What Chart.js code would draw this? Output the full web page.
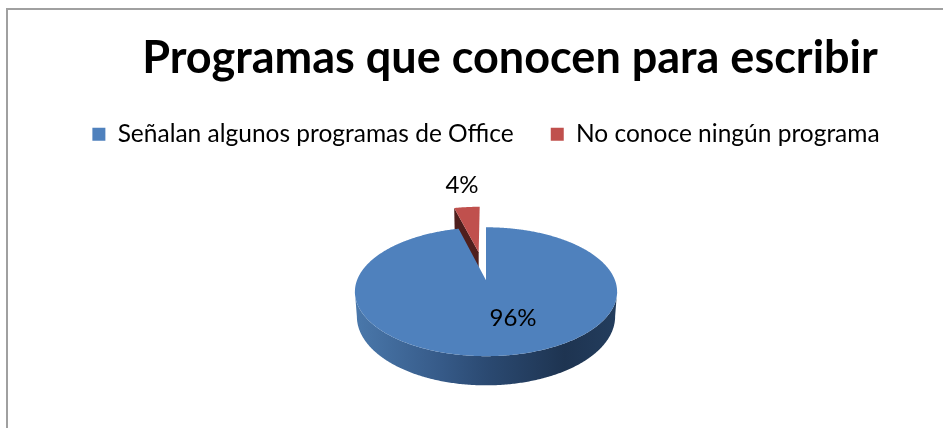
<!DOCTYPE html>
<html lang="es">
<head>
<meta charset="utf-8">
<style>html,body{margin:0;padding:0;background:#fff}canvas{display:block}</style>
<script src="https://cdn.jsdelivr.net/npm/chart.js@4"></script>
</head>
<body>
<canvas id="c" width="943" height="428" style="width:943px;height:428px"></canvas>
<script>
const titleText = 'Programas que conocen para escribir';
const categories = ['Señalan algunos programas de Office', 'No conoce ningún programa'];
const values = [96, 4];
const colors = ['#4f81bd', '#c0504d'];
const explode = [0, 49];

// 3-D view used to project the flat pie drawn by the library
const VIEW = { halfW: 129, halfH: 62.4, persp: 0.178, depth: 24, wallDepth: 28, bottomScale: 0.985 };
const LABEL_OFFSET = [[27, 38], [-24, -95]];
const TITLE_SHIFT = 24;

function project(cx, cy, u, v, lowered, depth) {
  const d = 1 - VIEW.persp * v;
  const s = lowered ? VIEW.bottomScale : 1;
  return [cx + VIEW.halfW * s * u / d,
          cy + (VIEW.halfH * v + (lowered ? depth : 0)) / d];
}

function arcSamples(a0, a1) {
  const n = Math.max(2, Math.ceil((a1 - a0) / 0.01));
  const out = [];
  for (let i = 0; i <= n; i++) out.push(a0 + (a1 - a0) * i / n);
  return out;
}

const pie3d = {
  id: 'pie3d',
  beforeDraw(chart) {
    const { ctx } = chart;
    ctx.save();
    ctx.strokeStyle = '#a0a0a0';
    ctx.lineWidth = 2;
    ctx.beginPath();
    ctx.moveTo(7, 428);
    ctx.lineTo(7, 9);
    ctx.lineTo(943, 9);
    ctx.stroke();
    ctx.restore();
  },
  afterLayout(chart) {
    chart.titleBlock.left += TITLE_SHIFT;
    chart.titleBlock.right += TITLE_SHIFT;
  },
  beforeDatasetDraw(chart, args) {
    const { ctx } = chart;
    const arcs = args.meta.data;
    const order = arcs.map((_, i) => i).sort((a, b) => values[a] - values[b]);
    ctx.save();
    for (const i of order) {
      const el = arcs[i];
      const frac = (el.options.offset || 0) / el.outerRadius;
      const mid = (el.startAngle + el.endAngle) / 2;
      const ox = frac * Math.cos(mid), oy = frac * Math.sin(mid);
      const depth = frac > 0 ? VIEW.wallDepth : VIEW.depth;
      const pt = (a, low) => project(el.x, el.y, ox + Math.cos(a), oy + Math.sin(a), low, depth);
      const apex = low => project(el.x, el.y, ox, oy, low, depth);

      // front rim
      const front = arcSamples(el.startAngle, el.endAngle)
        .filter(a => oy + Math.sin(a) >= VIEW.persp - 0.01 && frac === 0);
      if (front.length) {
        const g = ctx.createLinearGradient(el.x - 131, 0, el.x + 131, 0);
        g.addColorStop(0, '#4a78ab');
        g.addColorStop(0.33, '#365a88');
        g.addColorStop(0.5, '#2b4a72');
        g.addColorStop(0.8, '#1e3451');
        g.addColorStop(1, '#233d5d');
        ctx.fillStyle = g;
        ctx.beginPath();
        front.forEach((a, k) => { const p = pt(a, false); k ? ctx.lineTo(p[0], p[1]) : ctx.moveTo(p[0], p[1]); });
        front.slice().reverse().forEach(a => { const p = pt(a, true); ctx.lineTo(p[0], p[1]); });
        ctx.closePath();
        ctx.fill();
      }

      // wall on the cut edge of an exploded slice
      if (frac > 0) {
        const a = el.startAngle;
        ctx.fillStyle = '#4f1f1d';
        ctx.beginPath();
        let p = apex(false); ctx.moveTo(p[0], p[1]);
        p = pt(a, false); ctx.lineTo(p[0], p[1]);
        p = pt(a, true); ctx.lineTo(p[0], p[1]);
        p = apex(true); ctx.lineTo(p[0], p[1]);
        ctx.closePath();
        ctx.fill();
      }

      // top face
      ctx.fillStyle = el.options.backgroundColor;
      ctx.beginPath();
      const p0 = apex(false); ctx.moveTo(p0[0], p0[1]);
      arcSamples(el.startAngle, el.endAngle).forEach(a => { const p = pt(a, false); ctx.lineTo(p[0], p[1]); });
      ctx.closePath();
      ctx.fill();
    }
    ctx.restore();
    return false;
  },
  afterDatasetsDraw(chart) {
    const { ctx } = chart;
    ctx.save();
    ctx.font = '24px Lato';
    ctx.fillStyle = '#000';
    ctx.textAlign = 'center';
    ctx.textBaseline = 'middle';
    chart.getDatasetMeta(0).data.forEach((el, i) => {
      ctx.fillText(values[i] + '%', el.x + LABEL_OFFSET[i][0], el.y + LABEL_OFFSET[i][1]);
    });
    ctx.restore();
  }
};

new Chart(document.getElementById('c'), {
  type: 'pie',
  data: {
    labels: categories,
    datasets: [{ data: values, backgroundColor: colors, offset: explode, borderWidth: 0 }]
  },
  options: {
    responsive: false,
    animation: false,
    devicePixelRatio: 1,
    layout: { padding: { left: 29, right: 0, top: 0, bottom: 24 } },
    plugins: {
      tooltip: { enabled: false },
      title: {
        display: true,
        text: titleText,
        color: '#000',
        font: { family: 'Lato', size: 45, weight: 'bold' },
        padding: { top: 31, bottom: 0 }
      },
      legend: {
        position: 'top',
        labels: {
          color: '#000',
          font: { family: 'Lato', size: 24.5 },
          boxWidth: 13,
          boxHeight: 13,
          padding: 37
        }
      }
    }
  },
  plugins: [pie3d]
});
</script>
</body>
</html>
